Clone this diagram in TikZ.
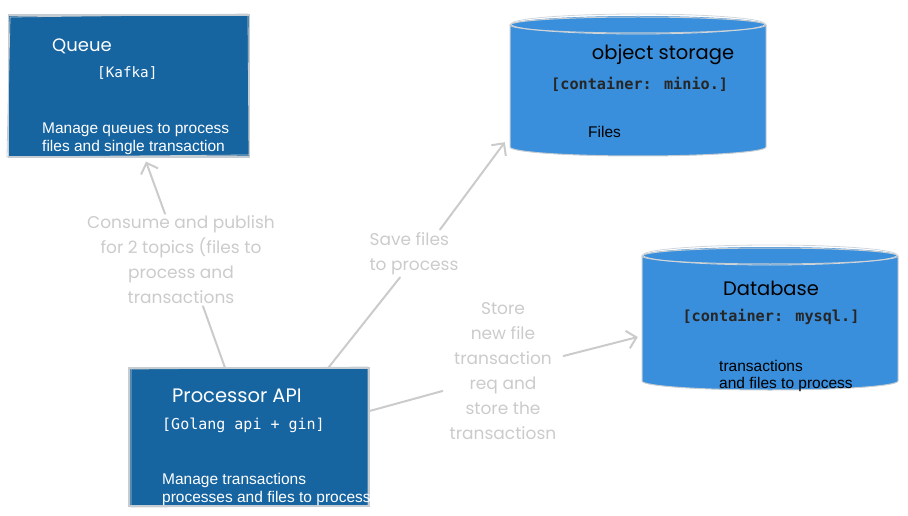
\documentclass[tikz,border=0pt]{standalone}
\usepackage{fontspec}
\setmainfont{Liberation Sans}
\newfontfamily\hand{Poppins}
\newfontfamily\mono{DejaVu Sans Mono}
\usetikzlibrary{arrows.meta,calc}
\definecolor{boxblue}{HTML}{1664A0}
\definecolor{cylblue}{HTML}{3A8FDC}
\definecolor{sketchgray}{HTML}{C5CCD2}
\definecolor{labgray}{HTML}{CBCBCB}
\tikzset{
  boxnode/.style={fill=boxblue, draw=sketchgray, line width=1.2pt, inner sep=0pt},
  titlew/.style={font=\hand\fontsize{19.5}{22}\selectfont, text=white, inner sep=0pt},
  titleb/.style={font=\hand\fontsize{19.5}{22}\selectfont, text=black, inner sep=0pt},
  monow/.style={font=\mono\fontsize{15}{18}\selectfont, text=white, inner sep=0pt},
  monob/.style={font=\mono\bfseries\fontsize{15.2}{18}\selectfont, text=black!85, inner sep=0pt},
  descw/.style={font=\fontsize{15.5}{18}\selectfont, text=white, inner sep=0pt, align=left, anchor=north west},
  descb/.style={font=\fontsize{15.5}{17}\selectfont, text=black, inner sep=0pt, align=left, anchor=north west},
  lab/.style={font=\hand\fontsize{17}{25}\selectfont, text=labgray, inner sep=1pt},
  conn/.style={draw=labgray, line width=2pt, line cap=round},
  arr/.style={conn, -{Straight Barb[length=9pt,width=18pt,line width=2pt]}},
}
\begin{document}
\begin{tikzpicture}[x=1pt,y=-1pt]
\useasboundingbox (0,0) rectangle (908,516);

% ---------- Queue box
\node[boxnode, minimum width=241pt, minimum height=142pt] (queue) at (129,86) {};
\draw[sketchgray, line width=0.8pt] (10,17) -- (248,14) -- (249,155) -- (7,157) -- cycle;
\node[titlew, anchor=west, font=\hand\fontsize{18}{20}\selectfont] (qt) at (52,46) {Queue};
\node[monow, anchor=west, font=\mono\fontsize{14.3}{18}\selectfont] (qk) at (97,73) {[Kafka]};
\node[descw] (qd) at (42,123) {Manage queues to process\\files and single transaction};

% ---------- Processor API box
\node[boxnode, minimum width=240pt, minimum height=138pt] (proc) at (249,437) {};
\draw[sketchgray, line width=0.8pt] (131,369) -- (368,367) -- (368,506) -- (131,507) -- cycle;
\node[titlew, anchor=west] (pt) at (172,396) {Processor API};
\node[monow, anchor=west] (pg) at (162,425) {[Golang api + gin]};
\node[descw] (pd) at (162,473) {Manage transactions\\processes and files to process};

% ---------- Object storage cylinder
\node[minimum width=256pt, minimum height=140pt, inner sep=0pt] (obj) at (638,85) {};
\fill[cylblue] (510,25) rectangle (766,147);
\fill[cylblue] (638,147) ellipse[x radius=128, y radius=9];
\fill[cylblue] (638,25) ellipse[x radius=128, y radius=9];
\draw[sketchgray, line width=1pt] (638,25) ellipse[x radius=128, y radius=8];
\draw[sketchgray!80, line width=0.8pt] (638,24) ellipse[x radius=127, y radius=10];
\draw[sketchgray, line width=1pt] (510,25) -- (510,147) arc[start angle=180, end angle=0, x radius=128, y radius=9] -- (766,25);
\node[titleb, anchor=center] (ot) at (663,55) {object storage};
\node[monob, anchor=west] (oc) at (551,84) {[container: minio.]};
\node[descb] (of) at (588,126) {Files};

% ---------- Database cylinder
\node[minimum width=256pt, minimum height=142pt, inner sep=0pt] (db) at (770,319) {};
\fill[cylblue] (642,256) rectangle (898,381);
\fill[cylblue] (770,381) ellipse[x radius=128, y radius=9];
\fill[cylblue] (770,256) ellipse[x radius=128, y radius=9];
\draw[sketchgray, line width=1pt] (770,256) ellipse[x radius=128, y radius=8];
\draw[sketchgray!80, line width=0.8pt] (770,255) ellipse[x radius=127, y radius=10];
\draw[sketchgray, line width=1pt] (642,256) -- (642,381) arc[start angle=180, end angle=0, x radius=128, y radius=9] -- (898,256);
\node[titleb, anchor=center] (dt) at (771,288) {Database};
\node[monob, anchor=center] (dc) at (771,317) {[container: mysql.]};
\node[descb] (dd) at (719,360) {transactions\\and files to process};

% ---------- Labels
\node[lab, align=center] (l1) at (181,260) {Consume and publish\\for 2 topics (files to\\process and\\transactions};
\node[lab, align=left] (l2) at (414,254) {Save files\\to process};
\node[lab, align=center] (l3) at (503,371) {Store\\new file\\transaction\\req and\\store the\\transactiosn};

% ---------- Connectors
\coordinate (q1) at ($(queue.south west)!0.57!(queue.south east)+(0,4)$);
\draw[conn] ($(proc.north west)!0.40!(proc.north east)$) -- ([xshift=22pt,yshift=-1pt]l1.south);
\draw[arr] ([xshift=-16pt,yshift=1pt]l1.north) -- (q1);

\coordinate (o1) at ($(obj.south west)+(-5,-13)$);
\draw[conn] ($(proc.north west)!0.83!(proc.north east)$) -- ([xshift=-14pt,yshift=-1pt]l2.south);
\draw[arr] ([xshift=26pt,yshift=2pt]l2.north) -- (o1);

\coordinate (d1) at ($(db.west)+(-4,18)$);
\draw[conn] ($(proc.east)+(0,-26)$) -- ([xshift=-6pt,yshift=-20pt]l3.west);
\draw[arr] ([xshift=6pt,yshift=15pt]l3.east) -- (d1);
\end{tikzpicture}
\end{document}
